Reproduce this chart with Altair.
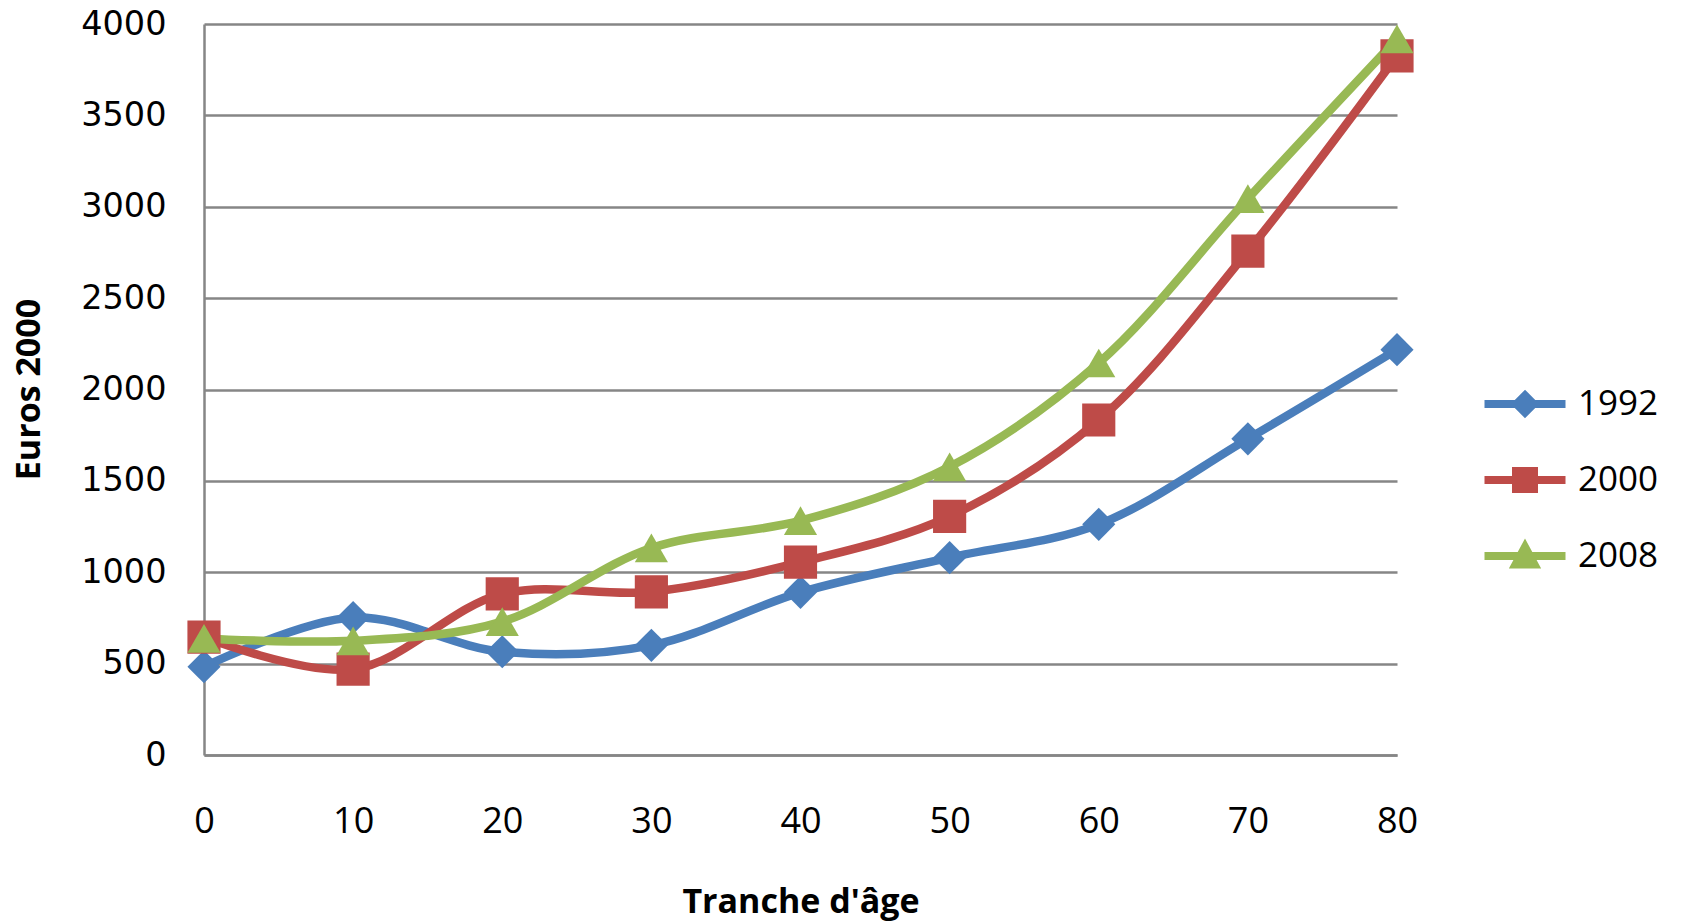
import altair as alt
import pandas as pd

ages = [0, 10, 20, 30, 40, 50, 60, 70, 80]
series = ["1992", "2000", "2008"]
v1992 = [483, 752, 565, 600, 890, 1080, 1262, 1730, 2218]
v2000 = [645, 470, 882, 893, 1055, 1306, 1833, 2757, 3826]
v2008 = [638, 625, 730, 1133, 1282, 1577, 2145, 3044, 3918]
colors = ["#4A7EBB", "#BE4B48", "#98B954"]
shapes = ["diamond", "square", "triangle-up"]
# legend glyphs: a line segment with the series marker in its middle
legend_shapes = [
    "M-0.9,0L0.9,0M0,-0.19L0.19,0L0,0.19L-0.19,0Z",
    "M-0.9,0L0.9,0M-0.2,-0.2L0.2,-0.2L0.2,0.2L-0.2,0.2Z",
    "M-0.9,0L0.9,0M0,-0.2L0.21,0.19L-0.21,0.19Z",
]
y_ticks = [0, 500, 1000, 1500, 2000, 2500, 3000, 3500, 4000]

rows = []
for name, vals in zip(series, [v1992, v2000, v2008]):
    for a, v in zip(ages, vals):
        rows.append({"age": a, "value": v, "series": name, "serie_key": name})
df = pd.DataFrame(rows)

W, H = 1193, 731
GRID = "#868686"
LW = 8.5

x_enc = alt.X(
    "age:Q",
    scale=alt.Scale(domain=[0, 80], nice=False, zero=False),
    axis=alt.Axis(
        values=ages, title="Tranche d'âge", grid=False, ticks=False,
        domainColor=GRID, domainWidth=2.5,
        labelFont="Open Sans", labelFontSize=36, labelColor="black",
        labelPadding=66, labelBaseline="middle", labelFlush=False,
        titleFont="Open Sans", titleFontWeight="bold", titleFontSize=34,
        titleColor="black", titleY=147, titleBaseline="middle",
    ),
)
y_enc = alt.Y(
    "value:Q",
    scale=alt.Scale(domain=[0, 4000], nice=False),
    axis=alt.Axis(
        values=y_ticks, format="d", title="Euros 2000", grid=True, gridColor=GRID,
        gridWidth=2.5, gridOpacity=1, ticks=False, domainColor=GRID, domainWidth=2.5,
        labelFont="DejaVu Sans", labelFontSize=33.5, labelColor="black",
        labelPadding=38,
        titleFont="Open Sans", titleFontWeight="bold", titleFontSize=34,
        titleColor="black", titleX=-175, titleY=365, titleAngle=270,
        titleAlign="center", titleBaseline="middle",
    ),
)

leg = alt.Legend(
    orient="none", legendX=1272, legendY=331, title=None,
    symbolSize=8100, symbolStrokeWidth=8, symbolOpacity=1,
    labelFont="Open Sans", labelFontSize=35, labelColor="black",
    labelOffset=4, rowPadding=2, padding=0,
)

color_scale = alt.Scale(domain=series, range=colors)

lines = alt.Chart(df).mark_line(
    interpolate="catmull-rom", strokeWidth=LW, strokeCap="round"
).encode(
    x=x_enc, y=y_enc,
    color=alt.Color("series:N", scale=color_scale, legend=leg),
    strokeWidth=alt.value(LW),
    detail="series:N",
)

point_layers = []
for name, shp in zip(series, shapes):
    point_layers.append(
        alt.Chart(df).transform_filter(alt.datum.serie_key == name)
        .mark_point(filled=True, opacity=1, strokeWidth=0, shape=shp, size=1100)
        .encode(
            x=x_enc, y=y_enc,
            color=alt.Color("serie_key:N", scale=color_scale, legend=None),
        )
    )

# layer with no rows: it only gives the legend its fill and glyph shapes
legend_carrier = alt.Chart(df).transform_filter("false").mark_point(filled=True).encode(
    x=x_enc, y=y_enc,
    fill=alt.Fill("series:N", scale=alt.Scale(domain=series, range=colors), legend=leg),
    shape=alt.Shape("series:N", scale=alt.Scale(domain=series, range=legend_shapes), legend=leg),
)

chart = alt.layer(lines, *point_layers, legend_carrier).properties(
    width=W, height=H,
    autosize=alt.AutoSizeParams(type="none"),
    padding={"left": 204, "top": 24, "right": 286, "bottom": 169},
    background="white",
).configure_view(stroke=None)

chart.save("out.html", embed_options={"renderer": "svg", "actions": False})
